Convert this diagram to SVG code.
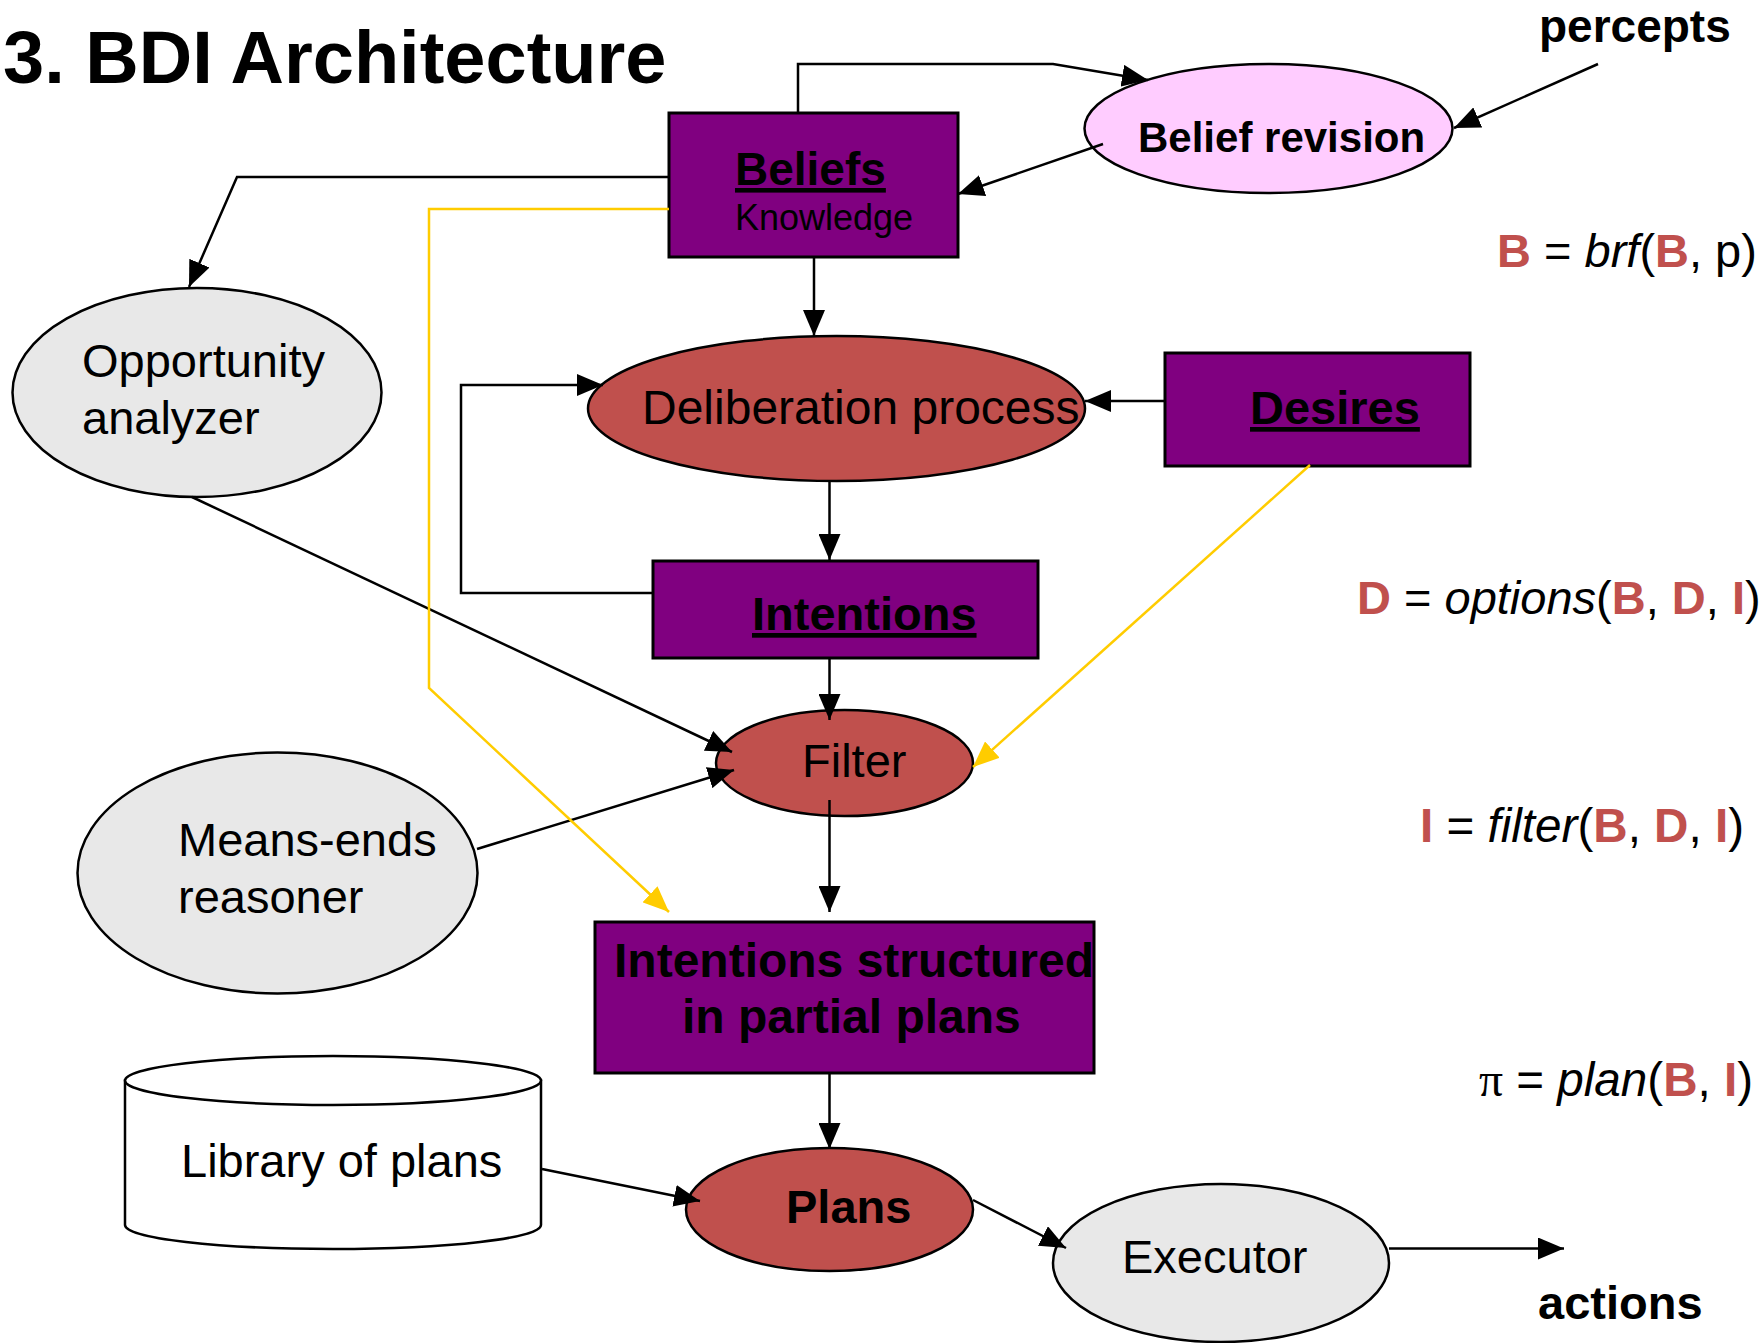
<svg xmlns="http://www.w3.org/2000/svg" width="1764" height="1343" viewBox="0 0 1764 1343">
  <defs>
    <style>
      text { font-family: "Liberation Sans", Arial, sans-serif; fill: #000; }
      .b { font-weight: bold; }
      .u { text-decoration: underline; }
      .box { fill: #800080; stroke: #000; stroke-width: 3; }
      .red { fill: #C0504D; stroke: #000; stroke-width: 2.5; }
      .grey { fill: #E8E8E8; stroke: #000; stroke-width: 2.5; }
      .pink { fill: #FFCCFF; stroke: #000; stroke-width: 2.5; }
      .db { fill: #FFFFFF; stroke: #000; stroke-width: 2.5; }
      .ln { fill: none; stroke: #000; stroke-width: 2.5; }
      .yl { fill: none; stroke: #FFCC00; stroke-width: 2.5; }
      .t47 { font-size: 47px; }
      .t48 { font-size: 48px; }
      .r { fill: #C0504D; font-weight: bold; }
      .i { font-style: italic; }
    </style>
    <marker id="ah" markerUnits="userSpaceOnUse" markerWidth="26" markerHeight="22" refX="26" refY="11" orient="auto" viewBox="0 0 26 22">
      <path d="M0,0 L26,11 L0,22 z" fill="#000"/>
    </marker>
    <marker id="ahy" markerUnits="userSpaceOnUse" markerWidth="26" markerHeight="22" refX="26" refY="11" orient="auto" viewBox="0 0 26 22">
      <path d="M0,0 L26,11 L0,22 z" fill="#FFCC00"/>
    </marker>
  </defs>

  <rect x="0" y="0" width="1764" height="1343" fill="#FFFFFF"/>

  <!-- title -->
  <text x="3" y="83" class="b" font-size="74">3. BDI Architecture</text>

  <!-- nodes -->
  <g id="beliefs">
    <rect class="box" x="669" y="113" width="289" height="144"/>
    <text x="735" y="185" class="b u" font-size="46">Beliefs</text>
    <text x="735" y="230" font-size="36">Knowledge</text>
  </g>

  <g id="belief-revision">
    <ellipse class="pink" cx="1268.5" cy="128.5" rx="184" ry="64.5"/>
    <text x="1138" y="152" class="b" font-size="42">Belief revision</text>
  </g>

  <g id="percepts">
    <text x="1539" y="42" class="b" font-size="46">percepts</text>
  </g>

  <g id="opportunity-analyzer">
    <ellipse class="grey" cx="197" cy="392.5" rx="184.5" ry="104.5"/>
    <text x="82" y="377" class="t47">Opportunity</text>
    <text x="82" y="434" class="t47">analyzer</text>
  </g>

  <g id="deliberation">
    <ellipse class="red" cx="836.5" cy="408.5" rx="248.5" ry="72.5"/>
    <text x="642" y="424" class="t48">Deliberation process</text>
  </g>

  <g id="desires">
    <rect class="box" x="1165" y="353" width="305" height="113"/>
    <text x="1250" y="424" class="b u t47">Desires</text>
  </g>

  <g id="intentions">
    <rect class="box" x="653" y="561" width="385" height="97"/>
    <text x="752" y="630" class="b u t47">Intentions</text>
  </g>

  <g id="filter">
    <ellipse class="red" cx="844.5" cy="763" rx="128.5" ry="53"/>
    <text x="802" y="777" class="t47">Filter</text>
  </g>

  <g id="means-ends-reasoner">
    <ellipse class="grey" cx="277.5" cy="873" rx="200" ry="120.5"/>
    <text x="178" y="856" class="t47">Means-ends</text>
    <text x="178" y="913" class="t47">reasoner</text>
  </g>

  <g id="partial-plans">
    <rect class="box" x="595" y="922" width="499" height="151"/>
    <text x="614" y="977" class="b t48">Intentions structured</text>
    <text x="682" y="1033" class="b t48">in partial plans</text>
  </g>

  <g id="library">
    <path class="db" d="M125,1080.5 L125,1225 A208,24 0 0 0 541,1225 L541,1080.5 Z"/>
    <ellipse class="db" cx="333" cy="1080.5" rx="208" ry="24.5"/>
    <text x="181" y="1177" class="t47">Library of plans</text>
  </g>

  <g id="plans">
    <ellipse class="red" cx="829.5" cy="1209.5" rx="143.5" ry="61.5"/>
    <text x="786" y="1223" class="b t47">Plans</text>
  </g>

  <g id="executor">
    <ellipse class="grey" cx="1221" cy="1263" rx="168" ry="79"/>
    <text x="1122" y="1273" class="t47">Executor</text>
  </g>

  <g id="actions">
    <text x="1538" y="1319" class="b t47">actions</text>
  </g>

  <!-- formulas -->
  <g id="formulas">
    <text x="1497" y="267" class="t47"><tspan class="r">B</tspan> = <tspan class="i">brf</tspan>(<tspan class="r">B</tspan>, p)</text>
    <text x="1357" y="614" class="t47"><tspan class="r">D</tspan> = <tspan class="i">options</tspan>(<tspan class="r">B</tspan>, <tspan class="r">D</tspan>, <tspan class="r">I</tspan>)</text>
    <text x="1420" y="842" font-size="47.6"><tspan class="r">I</tspan> = <tspan class="i">filter</tspan>(<tspan class="r">B</tspan>, <tspan class="r">D</tspan>, <tspan class="r">I</tspan>)</text>
    <text x="1479" y="1096" font-size="47.6"><tspan font-family="'Liberation Serif', serif">π</tspan> = <tspan class="i">plan</tspan>(<tspan class="r">B</tspan>, <tspan class="r">I</tspan>)</text>
  </g>

  <!-- connectors -->
  <g id="connectors">
    <polyline class="ln" points="798,113 798,64 1053,64 1148,80" marker-end="url(#ah)"/>
    <line class="ln" x1="1598" y1="64" x2="1454" y2="128" marker-end="url(#ah)"/>
    <line class="ln" x1="1103" y1="144" x2="958" y2="194" marker-end="url(#ah)"/>
    <polyline class="ln" points="669,177 237,177 189,287" marker-end="url(#ah)"/>
    <line class="ln" x1="814" y1="257" x2="814" y2="336" marker-end="url(#ah)"/>
    <line class="ln" x1="1165" y1="401" x2="1085" y2="401" marker-end="url(#ah)"/>
    <polyline class="ln" points="653,593 461,593 461,385 603,385" marker-end="url(#ah)"/>
    <line class="ln" x1="829.5" y1="481" x2="829.5" y2="560" marker-end="url(#ah)"/>
    <line class="ln" x1="829.5" y1="658" x2="829.5" y2="720" marker-end="url(#ah)"/>
    <line class="ln" x1="192" y1="497" x2="732" y2="752" marker-end="url(#ah)"/>
    <line class="ln" x1="477" y1="849" x2="734" y2="770" marker-end="url(#ah)"/>
    <line class="ln" x1="829.5" y1="800" x2="829.5" y2="912" marker-end="url(#ah)"/>
    <line class="ln" x1="829.5" y1="1073" x2="829.5" y2="1149" marker-end="url(#ah)"/>
    <line class="ln" x1="542" y1="1169" x2="700" y2="1201" marker-end="url(#ah)"/>
    <line class="ln" x1="973" y1="1200" x2="1066" y2="1248" marker-end="url(#ah)"/>
    <line class="ln" x1="1389" y1="1248.5" x2="1564" y2="1248.5" marker-end="url(#ah)"/>
    <polyline class="yl" points="669,209 429,209 429,688 669,912" marker-end="url(#ahy)"/>
    <line class="yl" x1="1310" y1="465" x2="973" y2="767" marker-end="url(#ahy)"/>
  </g>
</svg>
